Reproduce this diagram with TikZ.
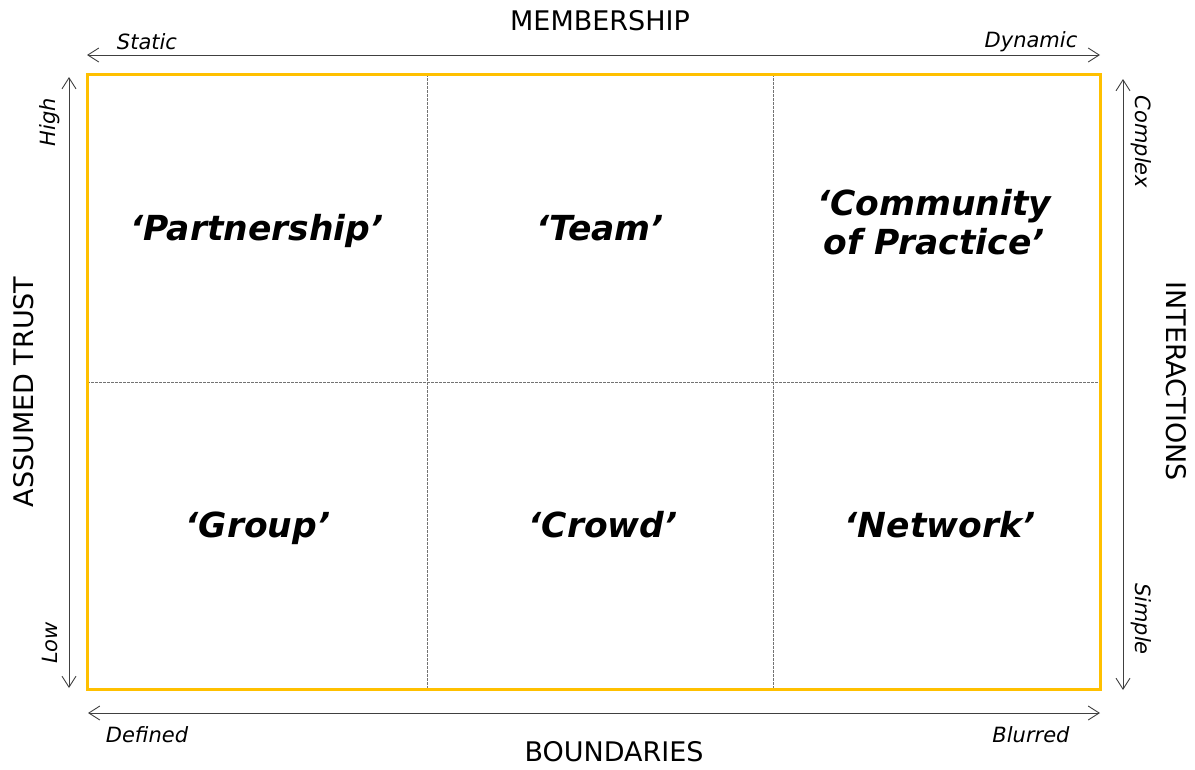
\documentclass[tikz,border=0pt]{standalone}
\usepackage{fontspec}
\setmainfont{DejaVu Sans}
\usetikzlibrary{arrows.meta}
\begin{document}
\begin{tikzpicture}[x=1pt,y=-1pt,
  axis/.style={draw=black!75,line width=0.9pt,{Straight Barb[length=11pt,width=14pt]}-{Straight Barb[length=11pt,width=14pt]}},
  divider/.style={draw=black!55,line width=1pt,dash pattern=on 2.5pt off 1.5pt},
  cell/.style={font=\fontsize{34.5}{39}\selectfont\bfseries\itshape,align=center,inner sep=0pt},
  small/.style={font=\fontsize{21}{24}\selectfont\itshape},
  big/.style={font=\fontsize{27}{31}\selectfont}]
\useasboundingbox (0,0) rectangle (1195,769);
\coordinate (tl) at (87,74);
\coordinate (br) at (1100,689);
% dividers
\coordinate (v1t) at (427,74); \coordinate (v1b) at (427,689);
\coordinate (v2t) at (773,74); \coordinate (v2b) at (773,689);
\coordinate (hl) at (87,382); \coordinate (hr) at (1100,382);
\draw[divider] (v1t) -- (v1b);
\draw[divider] (v2t) -- (v2b);
\draw[divider] (hl) -- (hr);
\draw[draw={rgb,255:red,255;green,192;blue,0},line width=3pt] (tl) rectangle (br);
% axes
\coordinate (ta) at (87,55); \coordinate (tb) at (1100,55);
\coordinate (ba) at (88,713); \coordinate (bb) at (1100,713);
\coordinate (la) at (69,77); \coordinate (lb) at (69,688);
\coordinate (ra) at (1123,79); \coordinate (rb) at (1123,690);
\draw[axis] (ta) -- (tb);
\draw[axis] (ba) -- (bb);
\draw[axis] (la) -- (lb);
\draw[axis] (ra) -- (rb);
% axis titles
\node[big] (mem) at (600,21) {MEMBERSHIP};
\node[big] (bou) at (614,752) {BOUNDARIES};
\node[big,rotate=90] (trust) at (24,392) {ASSUMED TRUST};
\node[big,rotate=-90] (inter) at (1176,381) {INTERACTIONS};
% axis end labels
\node[small] (static) at (147,42) {Static};
\node[small] (dynamic) at (1031,42) {Dynamic};
\node[small] (defined) at (147,735) {Defined};
\node[small] (blurred) at (1031,735) {Blurred};
\node[small,rotate=90] (high) at (50,122) {High};
\node[small,rotate=90] (low) at (50,643) {Low};
\node[small,rotate=-90] (complex) at (1141,142) {Complex};
\node[small,rotate=-90] (simple) at (1141,619) {Simple};
% cells
\node[cell,anchor=base] (partner) at (257,240) {‘Partnership’};
\node[cell,anchor=base] (team) at (600,240) {‘Team’};
\node[cell] (cop) at (934,222) {‘Community\\of Practice’};
\node[cell,anchor=base] (group) at (258,537) {‘Group’};
\node[cell,anchor=base] (crowd) at (603,537) {‘Crowd’};
\node[cell,anchor=base] (network) at (940,537) {‘Network’};
\end{tikzpicture}
\end{document}
